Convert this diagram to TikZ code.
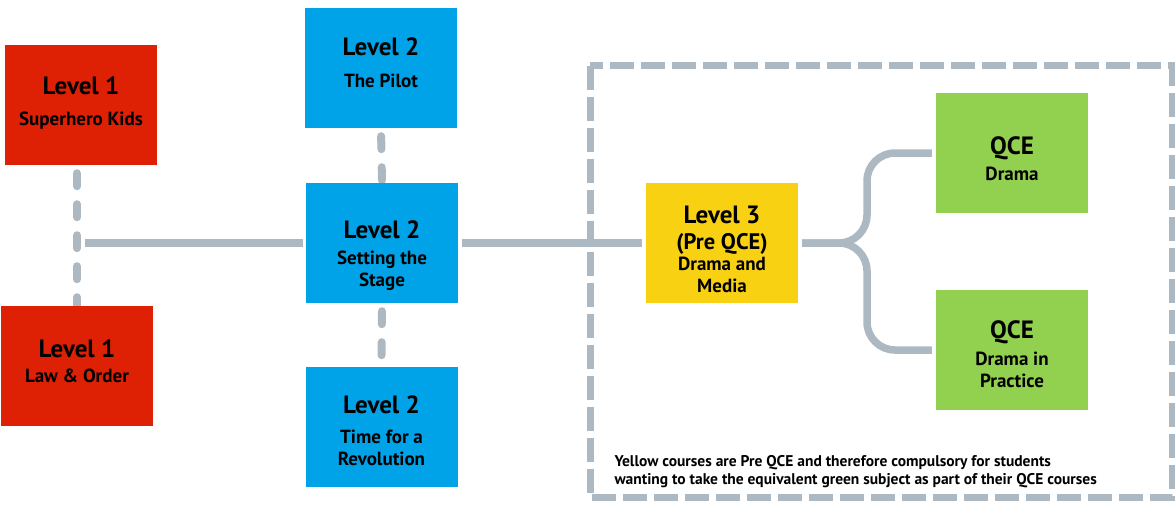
\documentclass[tikz,border=0pt]{standalone}
\usepackage{fontspec}
\setmainfont{PT Sans}
\usetikzlibrary{backgrounds}

\definecolor{lvlred}{HTML}{DE2005}
\definecolor{lvlblue}{HTML}{00A3E8}
\definecolor{lvlyellow}{HTML}{F8D113}
\definecolor{lvlgreen}{HTML}{92D050}
\definecolor{linkgray}{HTML}{ADB9C2}

\newcommand{\lvltitle}[1]{{\fontsize{25}{27}\selectfont #1}}

\tikzset{
    course/.style={rectangle, minimum width=152pt, minimum height=120pt, inner sep=0pt},
    coursetext/.style={align=center, inner sep=0pt, text=black,
        font=\fontsize{19}{22}\selectfont\bfseries},
    link/.style={draw=linkgray, line width=7.5pt},
    dashlink/.style={draw=linkgray, line width=8pt, line cap=round,
        dash pattern=on 13pt off 18pt},
    framebox/.style={draw=linkgray, line width=7pt, dash pattern=on 24pt off 7pt}
}

\begin{document}
\begin{tikzpicture}[x=1pt, y=-1pt]
    \useasboundingbox (0,0) rectangle (1175,507);

    % level 1
    \node[course, fill=lvlred] (superhero) at (81,105) {};
    \node[course, fill=lvlred] (law) at (77,366) {};
    \node[coursetext] (superhero-t) at ([yshift=2.5pt]superhero) {\lvltitle{Level 1}\\[9pt]Superhero Kids};
    \node[coursetext] (law-t) at ([yshift=4.5pt]law) {\lvltitle{Level 1}\\[3pt]Law \& Order};

    % level 2
    \node[course, fill=lvlblue] (pilot) at (381,68) {};
    \node[course, fill=lvlblue] (stage) at (382,243) {};
    \node[course, fill=lvlblue] (revolution) at (381.5,427) {};
    \node[coursetext] (pilot-t) at ([yshift=5.5pt]pilot) {\lvltitle{Level 2}\\[10pt]The Pilot};
    \node[coursetext] (stage-t) at ([yshift=-13pt]stage) {\lvltitle{Level 2}\\[4pt]Setting the\\Stage};
    \node[coursetext] (revolution-t) at ([yshift=-4pt]revolution) {\lvltitle{Level 2}\\[8pt]Time for a\\Revolution};

    % level 3 and QCE
    \node[course, fill=lvlyellow] (media) at (722,243) {};
    \node[course, fill=lvlgreen] (drama) at (1012,153) {};
    \node[course, fill=lvlgreen] (practice) at (1012,350) {};
    \node[coursetext] (media-t) at ([yshift=-6pt]media)
        {\lvltitle{Level 3}\\[4pt]{\fontsize{22.5}{24}\selectfont (Pre QCE)}\\[-1pt]Drama and\\Media};
    \node[coursetext] (drama-t) at ([yshift=-5.5pt]drama) {\lvltitle{QCE}\\[3.5pt]Drama};
    \node[coursetext] (practice-t) at ([yshift=-4pt]practice) {\lvltitle{QCE}\\[4.5pt]Drama in\\Practice};

    \node[anchor=west, align=left, font=\fontsize{15.5}{18}\selectfont\bfseries] (note) at (611,472)
        {Yellow courses are Pre QCE and therefore compulsory for students\\
         wanting to take the equivalent green subject as part of their QCE courses};

    \begin{scope}[on background layer]
        \draw[framebox] (590,65.5) rectangle (1172,497.5);

        \coordinate (split) at (law.north |- stage.west);
        \draw[dashlink, shorten <=8pt] (superhero.south -| law.north) -- (law.north);
        \draw[dashlink, shorten <=8pt] (pilot.south) -- (stage.north);
        \draw[dashlink, shorten <=8pt] (stage.south) -- (revolution.north);
        \draw[link, shorten >=3pt] ([xshift=8pt]split) -- (stage.west);
        \draw[link, shorten <=4pt, shorten >=4pt] (stage.east) -- (media.west);

        \coordinate (fork) at (867,243);
        \draw[link, rounded corners=28pt, shorten <=4pt, shorten >=4pt] (media.east) -- (fork) |- (drama.west);
        \draw[link, rounded corners=28pt, shorten <=4pt, shorten >=4pt] (media.east) -- (fork) |- (practice.west);
    \end{scope}
\end{tikzpicture}
\end{document}
